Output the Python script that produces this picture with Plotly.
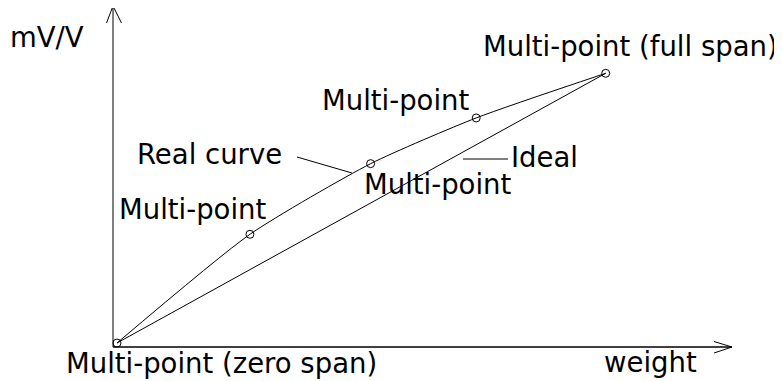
import plotly.graph_objects as go

# calibration points (weight as % of full span, output in mV/V)
weight = [0, 27.2, 51.9, 73.5, 100]
mv_per_v = [0, 0.806, 1.330, 1.669, 2.0]

ideal_weight = [0, 100]
ideal_mv = [0, 2.0]

W, H = 782, 381
OFF = 8  # the page body margin shifts the figure by this much

FW, FH = W - OFF, H - OFF

# pixel position (in the page) of the zero-span and full-span points
X0, Y0 = 117, 343
X1, Y1 = 605.7, 73.3
sx = (X1 - X0) / 100
sy = (Y0 - Y1) / 2.0


def px(x):
    return (x - OFF) / FW


def py(y):
    return 1 - (y - OFF) / FH


fig = go.Figure()

fig.add_trace(go.Scatter(
    x=ideal_weight, y=ideal_mv, mode="lines",
    line=dict(color="black", width=1),
    hoverinfo="skip", showlegend=False
))

fig.add_trace(go.Scatter(
    x=weight, y=mv_per_v, mode="lines+markers",
    line=dict(color="black", width=1, shape="spline", smoothing=0.6),
    marker=dict(symbol="circle-open", size=8, color="black", line=dict(width=1)),
    showlegend=False
))

line_black = dict(color="black", width=1)
shapes = []
# y axis with open arrow head
shapes.append(dict(type="line", xref="paper", yref="paper",
                   x0=px(113), y0=py(347), x1=px(113), y1=py(6), line=line_black))
shapes.append(dict(type="path", xref="paper", yref="paper",
                   path=f"M {px(106.5)} {py(23)} L {px(113)} {py(6)} L {px(121.5)} {py(23)}",
                   line=line_black))
# x axis with open arrow head
shapes.append(dict(type="line", xref="paper", yref="paper",
                   x0=px(113), y0=py(347), x1=px(732), y1=py(347),
                   line=dict(color="black", width=1.4)))
shapes.append(dict(type="path", xref="paper", yref="paper",
                   path=f"M {px(714)} {py(341.5)} L {px(732)} {py(347)} L {px(714)} {py(353)}",
                   line=line_black))
# leader lines
shapes.append(dict(type="line", xref="paper", yref="paper",
                   x0=px(297), y0=py(157), x1=px(352), y1=py(173), line=line_black))
shapes.append(dict(type="line", xref="paper", yref="paper",
                   x0=px(463), y0=py(159), x1=px(508), y1=py(159), line=line_black))

labels = [
    ("mV/V", 8, 37.5, "left"),
    ("Multi-point (full span)", 780, 46.5, "right"),
    ("Multi-point", 320, 100, "left"),
    ("Real curve", 135, 154.5, "left"),
    ("Ideal", 509, 157.5, "left"),
    ("Multi-point", 362, 183.5, "left"),
    ("Multi-point", 117, 208.5, "left"),
    ("Multi-point (zero span)", 64, 362.5, "left"),
    ("weight", 602, 362, "left"),
]

annotations = []
for text, lx, ly, anchor in labels:
    annotations.append(dict(
        text=text, x=px(lx), y=py(ly), xref="paper", yref="paper",
        xanchor=anchor, yanchor="middle", showarrow=False,
        font=dict(family="DejaVu Sans", size=27.5, color="black")
    ))

fig.update_layout(
    width=FW, height=FH,
    margin=dict(l=0, r=0, t=0, b=0),
    paper_bgcolor="white", plot_bgcolor="white",
    xaxis=dict(range=[(OFF - X0) / sx, (W - X0) / sx], visible=False, fixedrange=True),
    yaxis=dict(range=[(Y0 - H) / sy, (Y0 - OFF) / sy], visible=False, fixedrange=True),
    shapes=shapes,
    annotations=annotations,
)

fig.write_html("out.html")
